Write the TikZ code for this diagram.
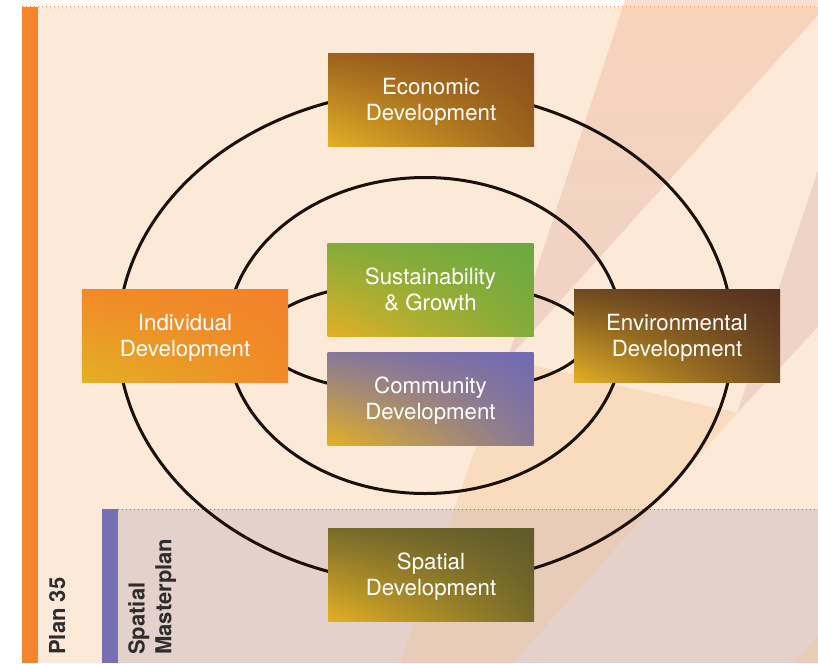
\documentclass[tikz,border=0pt]{standalone}
\usepackage{fontspec}
\setmainfont{TeX Gyre Heros}
\usepackage{tikz}
\usetikzlibrary{shadings}

\definecolor{peach}{HTML}{FDE9D7}
\definecolor{planorange}{HTML}{F5842A}
\definecolor{planpurple}{HTML}{7670B2}
\definecolor{zonepurple}{HTML}{E5D1CC}
\definecolor{ringblack}{HTML}{1A1008}
\definecolor{labelgray}{HTML}{2D2D2D}
\definecolor{beamtop}{HTML}{EFAA85}
\definecolor{beampink}{HTML}{D5AAAA}
\definecolor{beamorange}{HTML}{F2C491}
\definecolor{warmyellow}{HTML}{E3B024}
\definecolor{econbrown}{HTML}{8A4F1D}
\definecolor{sustgreen}{HTML}{6AAA40}
\definecolor{commviolet}{HTML}{7069B5}
\definecolor{indivorange}{HTML}{F38129}
\definecolor{envirbrown}{HTML}{53301F}
\definecolor{spatolive}{HTML}{5E5A2B}

\tikzset{
  devbox/.style={shade, upper right=#1, lower left=warmyellow,
    upper left=#1!80!warmyellow, lower right=#1!80!warmyellow,
    minimum width=6.18cm, minimum height=2.79cm, inner sep=0pt,
    text depth=0pt, text=white, align=center,
    font=\fontsize{19}{22.2}\selectfont},
  ring/.style={ringblack, line width=0.09cm},
  sidelabel/.style={rotate=90, inner sep=0pt, text=labelgray, align=left,
    font=\fontsize{18.8}{23}\selectfont\bfseries},
  edgedots/.style={line width=0.045cm, dash pattern=on 0.04cm off 0.08cm}
}

\begin{document}
\begin{tikzpicture}[x=0.03cm,y=-0.03cm]

    \useasboundingbox (0,0) rectangle (818,663);

    \fill [peach] (38,7) rectangle (818,663);
    \fill [planorange] (22,7) rectangle (38,663);
    \fill [zonepurple] (118,509) rectangle (818,663);
    \fill [planpurple] (102,509) rectangle (118,663);

    \shade [top color=beamtop, bottom color=beampink, opacity=0.35]
        (625,0) -- (818,0) -- (818,15) -- (507,360) -- cycle;
    \fill [beampink, opacity=0.35] (818,170) -- (818,327) -- (737,413) -- cycle;
    \fill [beamorange, opacity=0.35] (507,359) -- (737,413) -- (513,663) -- (400,663) -- cycle;
    \fill [beamorange, opacity=0.35] (818,636) -- (818,663) -- (793,663) -- cycle;

    \draw [edgedots, planorange] (22,6.5) -- (818,6.5);
    \draw [edgedots, planpurple] (118,509.5) -- (818,509.5);

	\draw [ring] (425.5,337) ellipse [x radius=307.5, y radius=247];
	\draw [ring] (425,335.5) ellipse [x radius=198, y radius=158];
	\draw [ring] (425,337.5) ellipse [x radius=163, y radius=57];

	\node (econ) [devbox=econbrown] at (431,99.5) {Economic\\Development};
	\node (sust) [devbox=sustgreen] at (430.5,289.5) {Sustainability\\\& Growth};
	\node (comm) [devbox=commviolet] at (430.5,398.5) {Community\\Development};
	\node (indiv) [devbox=indivorange] at (185,335.5) {Individual\\Development};
	\node (envir) [devbox=envirbrown] at (677,335.5) {Environmental\\Development};
	\node (spat) [devbox=spatolive] at (431,574.5) {Spatial\\Development};

	\node (plan) [sidelabel, anchor=base west] at (65,655) {Plan 35};
	\node (master) [sidelabel, anchor=south west] at (176.5,655) {Spatial\\Masterplan};

\end{tikzpicture}
\end{document}
